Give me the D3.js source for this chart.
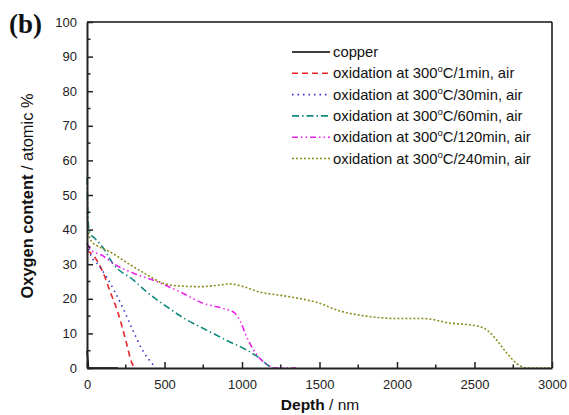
<!DOCTYPE html>
<html><head><meta charset="utf-8">
<script src="https://cdn.jsdelivr.net/npm/d3@7/dist/d3.min.js"></script>
<style>body{margin:0;background:#fff;} svg{display:block;}</style>
</head><body>
<script>
const xTicks = [0, 500, 1000, 1500, 2000, 2500, 3000];
const yTicks = [0, 10, 20, 30, 40, 50, 60, 70, 80, 90, 100];
const seriesNames = ["copper", "oxidation at 300°C/1min, air", "oxidation at 300°C/30min, air", "oxidation at 300°C/60min, air", "oxidation at 300°C/120min, air", "oxidation at 300°C/240min, air"];
const copper = [[0,5],[15,0],[200,0]];
const ox1 = [[0,34],[50,32],[100,28],[150,22],[200,16],[250,8],[290,1.4],[310,0]];
const ox30 = [[0,36],[30,32],[60,30.5],[130,26],[180,22],[235,17],[290,11.5],[360,5],[425,1],[445,0]];
const ox60 = [[0,55],[8,42],[20,39],[50,37.5],[100,35],[170,30],[300,25.4],[385,22],[515,17.7],[640,14],[770,11],[900,8],[1030,5.2],[1115,2.8],[1190,0.2],[1210,0]];
const ox120 = [[0,36],[30,34],[100,32.5],[170,30.2],[300,27.4],[450,25],[600,22],[750,18.7],[880,17.2],[950,16],[990,13.4],[1030,9],[1075,5.2],[1125,2.3],[1190,0.3],[1210,0],[1350,0]];
const ox240 = [[0,45],[10,39],[30,36.5],[80,35],[150,33.5],[280,29.8],[385,27],[490,24.5],[600,23.7],[730,23.5],[860,24],[920,24.3],[1010,23.5],[1110,22],[1250,21],[1380,20],[1480,19],[1630,16.5],[1800,15],[2000,14.3],[2170,14.3],[2340,13],[2510,12.2],[2580,11],[2640,8.2],[2710,4.2],[2770,1.4],[2840,0],[3000,0]];
const seriesData = [copper, ox1, ox30, ox60, ox120, ox240];
const colors = ["#000000", "#e8262a", "#3535c8", "#138a7e", "#ee22ee", "#8c8c1e"];
const dashes = [null, "6,4", "1.5,4", "7,3,1.5,3", "6,3,1.5,3,1.5,3", "2,2"];

const W = 569, H = 415;
const m = {l: 87, r: 552, t: 22, b: 368};
const svg = d3.select("body").append("svg").attr("width", W).attr("height", H)
  .style("font-family", "Arial, 'Liberation Sans', sans-serif");
const x = d3.scaleLinear().domain([0, 3000]).range([m.l, m.r]);
const y = d3.scaleLinear().domain([0, 100]).range([m.b, m.t]);

// frame
svg.append("line").attr("x1", m.l).attr("x2", m.r).attr("y1", m.t).attr("y2", m.t).attr("stroke", "#111").attr("stroke-width", 1.5);
svg.append("line").attr("x1", m.r).attr("x2", m.r).attr("y1", m.t).attr("y2", m.b).attr("stroke", "#111").attr("stroke-width", 1.5);

// lines
const line = d3.line().x(d => x(d[0])).y(d => y(d[1])).curve(d3.curveMonotoneX);
const g = svg.append("g");
seriesData.forEach((s, i) => {
  g.append("path").datum(s).attr("d", line).attr("fill", "none")
    .attr("stroke", colors[i]).attr("stroke-width", 1.6)
    .attr("stroke-dasharray", dashes[i]);
});

// axes
const xAxis = d3.axisBottom(x).tickValues(xTicks).tickFormat(d3.format("d")).tickSizeInner(-6).tickSizeOuter(0).tickPadding(12);
const gx = svg.append("g").attr("transform", `translate(0,${m.b})`).call(xAxis);
const yAxis = d3.axisLeft(y).tickValues(yTicks).tickFormat(d3.format("d")).tickSizeInner(-6).tickSizeOuter(0).tickPadding(10);
const gy = svg.append("g").attr("transform", `translate(${m.l},0)`).call(yAxis);
[gx, gy].forEach(a => {
  a.select(".domain").attr("stroke", "#222").attr("stroke-width", 2);
  a.selectAll(".tick line").attr("stroke", "#222").attr("stroke-width", 1.5);
  a.selectAll("text").attr("font-size", 13).attr("fill", "#222").style("font-family", "Arial, 'Liberation Sans', sans-serif");
});
// minor ticks
const xMinor = d3.range(250, 3000, 500);
svg.append("g").selectAll("line").data(xMinor).join("line")
  .attr("x1", d => x(d)).attr("x2", d => x(d)).attr("y1", m.b).attr("y2", m.b - 3.5)
  .attr("stroke", "#222").attr("stroke-width", 1.5);
const yMinor = d3.range(5, 100, 10);
svg.append("g").selectAll("line").data(yMinor).join("line")
  .attr("x1", m.l).attr("x2", m.l + 3.5).attr("y1", d => y(d)).attr("y2", d => y(d))
  .attr("stroke", "#222").attr("stroke-width", 1.5);

// axis titles
const xt = svg.append("text").attr("x", 320).attr("y", 410).attr("text-anchor", "middle").attr("font-size", 15.5).attr("fill", "#111");
xt.append("tspan").attr("font-weight", "bold").text("Depth");
xt.append("tspan").text(" / nm");
const yt = svg.append("text").attr("transform", `translate(33,196) rotate(-90)`).attr("text-anchor", "middle").attr("font-size", 16.4).attr("fill", "#111");
yt.append("tspan").attr("font-weight", "bold").text("Oxygen content");
yt.append("tspan").text(" / atomic %");

// panel label
svg.append("text").attr("x", 9).attr("y", 33).attr("font-family", "'Liberation Serif', 'Times New Roman', serif")
  .attr("font-weight", "bold").attr("font-size", 27).attr("fill", "#111").text("(b)");

// legend
const legY0 = 52, legDY = 21.3;
seriesNames.forEach((name, i) => {
  const yy = legY0 + i * legDY;
  svg.append("line").attr("x1", 292).attr("x2", 330).attr("y1", yy).attr("y2", yy)
    .attr("stroke", colors[i]).attr("stroke-width", 1.6).attr("stroke-dasharray", dashes[i]);
  const t = svg.append("text").attr("x", 333).attr("y", yy + 5).attr("font-size", 14.8).attr("fill", "#111");
  const idx = name.indexOf("°");
  if (idx < 0) { t.text(name); }
  else {
    t.append("tspan").text(name.slice(0, idx));
    t.append("tspan").attr("dy", -6).attr("font-size", 9.5).text("o");
    t.append("tspan").attr("dy", 6).text(name.slice(idx + 1));
  }
});
</script>
</body></html>
